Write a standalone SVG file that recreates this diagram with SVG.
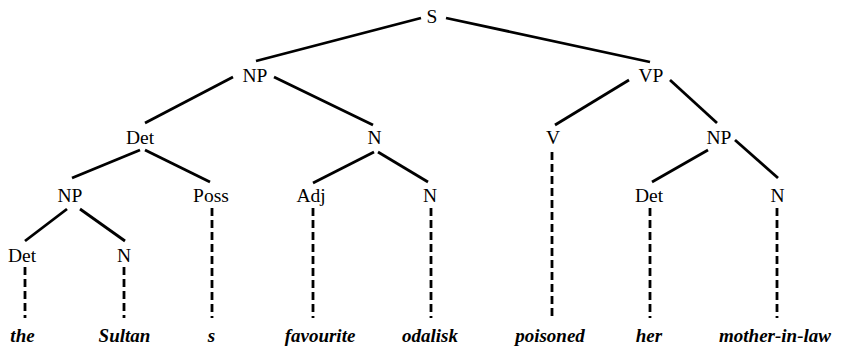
<svg xmlns="http://www.w3.org/2000/svg" width="845" height="349" viewBox="0 0 845 349">
<style>
.lbl{font-family:"Liberation Serif","Times New Roman",serif;font-size:19.5px;fill:#000;text-anchor:middle}
.word{font-family:"Liberation Serif","Times New Roman",serif;font-size:19px;font-style:italic;font-weight:bold;fill:#000;text-anchor:middle}
.solid{stroke:#000;stroke-width:2.8;fill:none}
.dash{stroke:#000;stroke-width:2.8;fill:none;stroke-dasharray:8 4}
</style>
<rect width="845" height="349" fill="#fff"/>
<g id="connectors">
<line class="solid" x1="421" y1="18" x2="256" y2="61"/>
<line class="solid" x1="446" y1="18" x2="650" y2="62"/>
<line class="solid" x1="233" y1="77" x2="145" y2="123"/>
<line class="solid" x1="274" y1="77" x2="373" y2="125"/>
<line class="solid" x1="629" y1="80" x2="555" y2="125"/>
<line class="solid" x1="670" y1="80" x2="717" y2="123"/>
<line class="solid" x1="140" y1="150" x2="72" y2="178"/>
<line class="solid" x1="145" y1="150" x2="210" y2="182"/>
<line class="solid" x1="374" y1="152" x2="313" y2="183"/>
<line class="solid" x1="378" y1="152" x2="428" y2="182"/>
<line class="solid" x1="708" y1="150" x2="652" y2="182"/>
<line class="solid" x1="735" y1="140" x2="778" y2="178"/>
<line class="solid" x1="67" y1="209" x2="25" y2="241"/>
<line class="solid" x1="80" y1="209" x2="125" y2="241"/>
<line class="dash" x1="25" y1="267" x2="25" y2="318"/>
<line class="dash" x1="124" y1="267" x2="124" y2="318"/>
<line class="dash" x1="212" y1="208" x2="212" y2="318"/>
<line class="dash" x1="313" y1="208" x2="313" y2="318"/>
<line class="dash" x1="431" y1="208" x2="431" y2="318"/>
<line class="dash" x1="552" y1="152" x2="552" y2="318"/>
<line class="dash" x1="650" y1="208" x2="650" y2="318"/>
<line class="dash" x1="777" y1="208" x2="777" y2="318"/>
</g>
<g id="S"><text class="lbl" x="432" y="23">S</text></g>
<g id="NP1"><text class="lbl" x="255" y="82">NP</text></g>
<g id="VP"><text class="lbl" x="651" y="82">VP</text></g>
<g id="Det1"><text class="lbl" x="140" y="144">Det</text></g>
<g id="N1"><text class="lbl" x="374.5" y="144">N</text></g>
<g id="V"><text class="lbl" x="553" y="144">V</text></g>
<g id="NP2"><text class="lbl" x="719" y="144">NP</text></g>
<g id="NP3"><text class="lbl" x="70" y="202">NP</text></g>
<g id="Poss"><text class="lbl" x="211" y="202">Poss</text></g>
<g id="Adj"><text class="lbl" x="311" y="202">Adj</text></g>
<g id="N2"><text class="lbl" x="430" y="202">N</text></g>
<g id="Det2"><text class="lbl" x="649" y="202">Det</text></g>
<g id="N3"><text class="lbl" x="777.5" y="202">N</text></g>
<g id="Det3"><text class="lbl" x="22" y="262">Det</text></g>
<g id="N4"><text class="lbl" x="124" y="262">N</text></g>
<g id="w-the"><text class="word" x="22.5" y="342">the</text></g>
<g id="w-sultan"><text class="word" x="124.5" y="342">Sultan</text></g>
<g id="w-s"><text class="word" x="211.5" y="342">s</text></g>
<g id="w-favourite"><text class="word" x="320" y="342">favourite</text></g>
<g id="w-odalisk"><text class="word" x="430" y="342">odalisk</text></g>
<g id="w-poisoned"><text class="word" x="550" y="342">poisoned</text></g>
<g id="w-her"><text class="word" x="649" y="342">her</text></g>
<g id="w-mil"><text class="word" x="775" y="342">mother-in-law</text></g>
</svg>
